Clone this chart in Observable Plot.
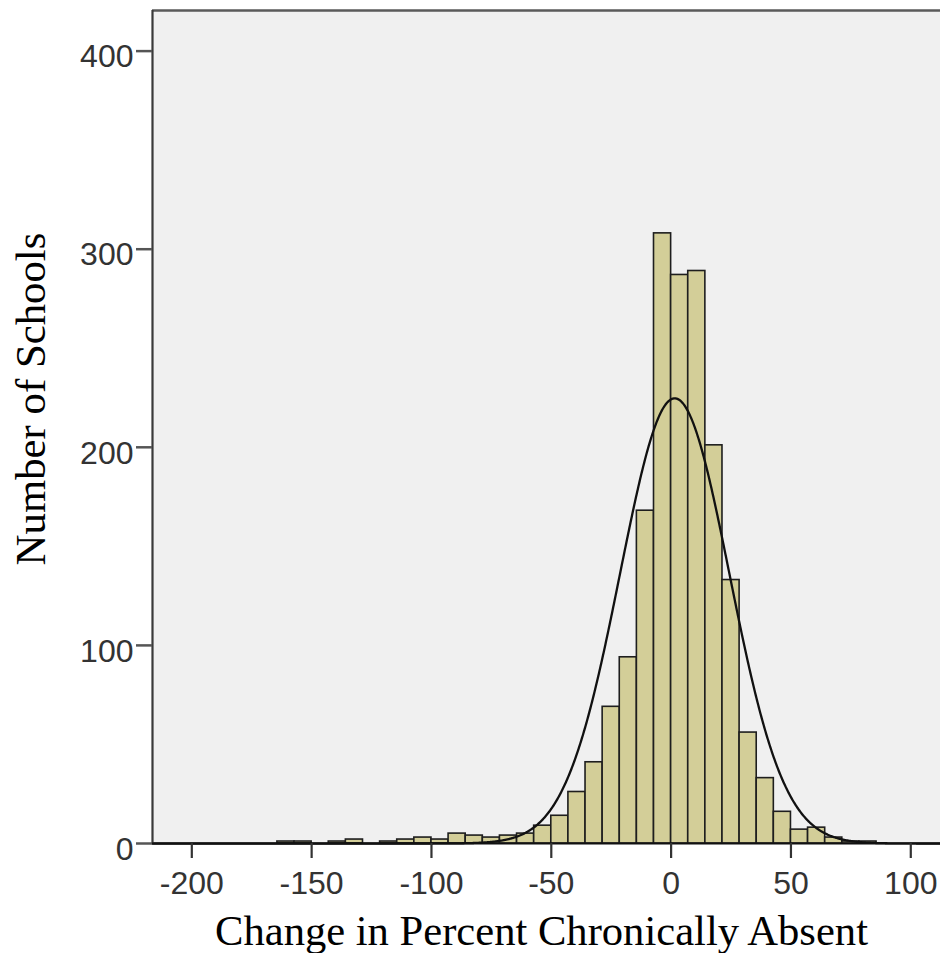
<!DOCTYPE html>
<html>
<head>
<meta charset="utf-8">
<script src="https://cdn.jsdelivr.net/npm/d3@7"></script>
<script src="https://cdn.jsdelivr.net/npm/@observablehq/plot@0.6"></script>
<style>
  html, body { margin: 0; padding: 0; background: #ffffff; }
  #chart svg { display: block; }
</style>
</head>
<body>
<div id="chart"></div>
<script>
// ---- data ----
const binWidth = 50 / 7;           // histogram bin width (7 bins per 50 units)
const firstBinIndex = -23;         // first bin starts at -23 * binWidth
const counts = [1, 1, 0, 1, 2, 0, 1, 2, 3, 2, 5, 4, 3, 4, 5, 9, 14, 26, 41, 69, 94, 168,
                308, 287, 289, 201, 133, 56, 33, 16, 7, 8, 3, 1, 1];
const xTicks = [-200, -150, -100, -50, 0, 50, 100];
const yTicks = [0, 100, 200, 300, 400];
const normalMean = 1.5;
const normalSd = 22.8;
const xTitle = "Change in Percent Chronically Absent";
const yTitle = "Number of Schools";
const xDomain = [-216.4, 112.4];
const yDomain = [0, 420.5];

// ---- derived tables ----
const bins = counts
  .map((c, i) => ({x1: (firstBinIndex + i) * binWidth, x2: (firstBinIndex + i + 1) * binWidth, count: c}))
  .filter(d => d.count > 0);
const total = d3.sum(counts);
const curve = d3.range(xDomain[0], xDomain[1] + 0.25, 0.25).map(x => ({
  x,
  y: total * binWidth * Math.exp(-0.5 * ((x - normalMean) / normalSd) ** 2) / (normalSd * Math.sqrt(2 * Math.PI))
}));

const sans = "'Liberation Sans', Arial, Helvetica, sans-serif";
const serif = "'Liberation Serif', 'Times New Roman', Times, serif";

const chart = Plot.plot({
  width: 940,
  height: 953,
  marginLeft: 152,
  marginRight: 0,
  marginTop: 10,
  marginBottom: 110,
  style: {fontFamily: sans, fontSize: "32px", color: "#2a2a2a", background: "#ffffff", overflow: "visible"},
  x: {domain: xDomain},
  y: {domain: yDomain},
  marks: [
    Plot.frame({fill: "#f0f0f0", stroke: "none"}),
    Plot.rectY(bins, {x1: "x1", x2: "x2", y: "count", fill: "#d3ce98", stroke: "#1e1e1e", strokeWidth: 1.6}),
    Plot.line(curve, {x: "x", y: "y", stroke: "#111111", strokeWidth: 2.3}),
    Plot.ruleY([yDomain[1]], {stroke: "#5a5a5a", strokeWidth: 2.5}),
    Plot.ruleX([xDomain[0]], {stroke: "#3a3a3a", strokeWidth: 2.2}),
    Plot.ruleY([0], {stroke: "#111111", strokeWidth: 2.2}),
    Plot.axisX({ticks: xTicks, tickSize: 15, tickPadding: 13, label: null, stroke: "#333", strokeWidth: 2.2,
                tickFormat: d => String(d), fontSize: 32, fill: "#333"}),
    Plot.axisY({ticks: yTicks, tickSize: 16, label: null, stroke: "#555", strokeWidth: 2.5, tickFormat: () => ""}),
    Plot.axisY({ticks: yTicks, tickSize: 0, tickPadding: 19, label: null, dy: 6,
                tickFormat: d => String(d), fontSize: 32, fill: "#333"}),
    Plot.text([xTitle], {frameAnchor: "bottom", dx: -5, dy: 101, lineAnchor: "bottom", textAnchor: "middle",
                         fontFamily: serif, fontSize: 42.6, fill: "#000"}),
    Plot.text([yTitle], {frameAnchor: "left", rotate: -90, dx: -108, dy: -28, lineAnchor: "bottom", textAnchor: "middle",
                         fontFamily: serif, fontSize: 42.8, fill: "#000"})
  ]
});
document.getElementById("chart").appendChild(chart);
</script>
</body>
</html>
